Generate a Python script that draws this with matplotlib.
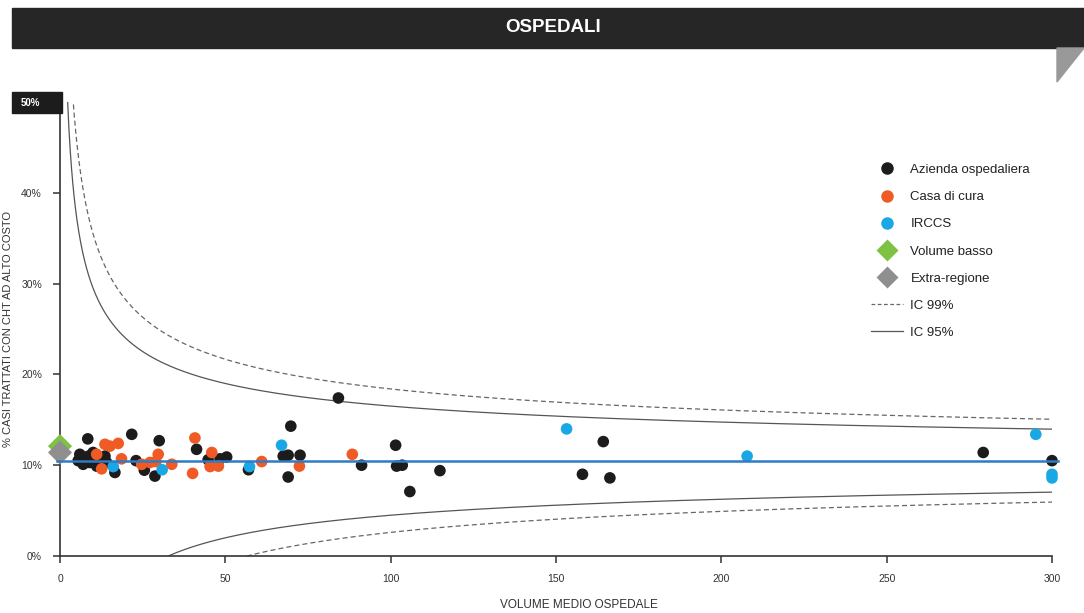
import numpy as np
import matplotlib
matplotlib.use("Agg")
import matplotlib.pyplot as plt
from matplotlib.lines import Line2D
from matplotlib.patches import Rectangle, Polygon

plt.rcParams['font.family'] = ['Liberation Sans', 'DejaVu Sans']

# Azienda ospedaliera
x_az = [5.5, 6, 7, 8.4, 8.6, 9, 10, 11.1, 11.6, 13.6, 14.1, 16.6, 21.7, 23, 25.5, 28.7, 30,
        41.3, 44.8, 48.4, 50.4, 57, 67.5, 69, 69.8, 69, 72.6, 84.2, 91.2, 101.5, 101.8,
        103.5, 105.8, 114.9, 158, 164.3, 166.3, 279.2, 300]
y_az = [10.5, 11.2, 10.1, 12.9, 11.0, 10.3, 11.4, 9.9, 10.7, 11.0, 10.3, 9.2, 13.4, 10.5, 9.45,
        8.8, 12.7, 11.75, 10.6, 10.7, 10.9, 9.5, 11.0, 11.1, 14.3, 8.7, 11.1, 17.4, 10.0, 12.2,
        9.9, 10.0, 7.1, 9.4, 9.0, 12.6, 8.6, 11.4, 10.5]
# Casa di cura
x_cc = [11.1, 12.6, 13.6, 15.1, 17.6, 18.6, 24.7, 27.2, 29.0, 29.7, 33.8, 40.1, 40.8, 45.4,
        45.9, 47.9, 61.0, 72.4, 88.4]
y_cc = [11.2, 9.6, 12.3, 12.1, 12.4, 10.7, 10.1, 10.3, 10.4, 11.2, 10.1, 9.1, 13.0, 9.85,
        11.4, 9.9, 10.4, 9.9, 11.2]
# IRCCS
x_ir = [16.1, 30.9, 57.3, 67.0, 153.2, 207.8, 295.1, 300, 300]
y_ir = [9.85, 9.5, 9.85, 12.2, 14.0, 11.0, 13.4, 9.0, 8.6]
# Volume basso / Extra-regione
x_vb, y_vb = [0], [12.1]
x_er, y_er = [0], [11.4]

p_mean = 10.5  # % media regionale
z95, z99 = 1.96, 2.576

fig = plt.figure(figsize=(10.84, 6.13), dpi=100)
W, H = 1084, 613

# barra del titolo
fig.patches.append(Rectangle((12 / W, (H - 48) / H), (W - 12) / W, 40 / H,
                             transform=fig.transFigure, color='#262626', zorder=0))
fig.text(553 / W, (H - 28) / H, 'OSPEDALI', color='white', fontsize=13.5, fontweight='bold',
         ha='center', va='center')
fig.patches.append(Polygon([(1057 / W, (H - 48) / H), (1.0, (H - 48) / H), (1057 / W, (H - 82) / H)],
                           closed=True, transform=fig.transFigure, color='#999999'))

ax = fig.add_axes([60 / W, 57 / H, 992 / W, 454 / H])

n = np.linspace(0.5, 300, 1500)
pp = p_mean / 100
se = np.sqrt(pp * (1 - pp) / n) * 100
ax.plot(n, p_mean + z99 * se, ls=(0, (4, 2.5)), c='#666666', lw=0.9)
ax.plot(n, p_mean - z99 * se, ls=(0, (4, 2.5)), c='#666666', lw=0.9)
ax.plot(n, p_mean + z95 * se, ls='-', c='#555555', lw=0.9)
ax.plot(n, p_mean - z95 * se, ls='-', c='#555555', lw=0.9)

ms = 70
ax.scatter(x_az, y_az, s=ms, c='#1c1c1c', edgecolors='none', zorder=3, clip_on=False)
ax.scatter(x_cc, y_cc, s=ms, c='#f05a24', edgecolors='none', zorder=4, clip_on=False)
ax.scatter(x_ir, y_ir, s=ms, c='#1aa7e6', edgecolors='none', zorder=5, clip_on=False)
ax.scatter(x_vb, y_vb, s=150, marker='D', c='#7dc242', edgecolors='none', zorder=5, clip_on=False)
ax.scatter(x_er, y_er, s=150, marker='D', c='#8f8f8f', edgecolors='none', zorder=6, clip_on=False)
ax.axhline(p_mean, xmin=-0.003, xmax=1.006, color='#2f7bc4', lw=1.8, zorder=7, clip_on=False)

ax.set_xlim(0, 300)
ax.set_ylim(0, 50)
ax.set_xticks([0, 50, 100, 150, 200, 250, 300])
ax.set_yticks([0, 10, 20, 30, 40])
ax.set_yticklabels(['0%', '10%', '20%', '30%', '40%'])
for s in ['top', 'right']:
    ax.spines[s].set_visible(False)
for s in ['left', 'bottom']:
    ax.spines[s].set_color('#333333')
    ax.spines[s].set_linewidth(1.2)
ax.tick_params(colors='#333333', labelsize=7.5, length=5, width=1.1, pad=8)

fig.text(8 / W, (H - 329) / H, '% CASI TRATTATI CON CHT AD ALTO COSTO', fontsize=8, color='#333333',
         rotation=90, ha='center', va='center')
fig.text(579 / W, 8 / H, 'VOLUME MEDIO OSPEDALE', fontsize=8.5, color='#333333',
         ha='center', va='center')

# etichetta 50%
fig.patches.append(Rectangle((12 / W, (H - 113) / H), 50 / W, 21 / H,
                             transform=fig.transFigure, color='#1c1c1c'))
fig.text(30 / W, (H - 103) / H, '50%', color='white', fontsize=7, fontweight='bold',
         ha='center', va='center')

handles = [
    Line2D([], [], ls='none', marker='o', ms=9, mfc='#1c1c1c', mec='none'),
    Line2D([], [], ls='none', marker='o', ms=9, mfc='#f05a24', mec='none'),
    Line2D([], [], ls='none', marker='o', ms=9, mfc='#1aa7e6', mec='none'),
    Line2D([], [], ls='none', marker='D', ms=11, mfc='#7dc242', mec='none'),
    Line2D([], [], ls='none', marker='D', ms=11, mfc='#8f8f8f', mec='none'),
    Line2D([], [], ls=(0, (3, 2)), c='#666666', lw=0.9),
    Line2D([], [], ls='-', c='#555555', lw=0.9),
]
labels = ['Azienda ospedaliera', 'Casa di cura', 'IRCCS', 'Volume basso', 'Extra-regione',
          'IC 99%', 'IC 95%']
ax.legend(handles, labels, loc='upper left', bbox_to_anchor=(859 / W, (H - 152) / H),
          bbox_transform=fig.transFigure, frameon=False, fontsize=9.5, labelspacing=1.13,
          handlelength=2.4, handletextpad=0.6, labelcolor='#222222')

fig.savefig('out.png', dpi=100)
